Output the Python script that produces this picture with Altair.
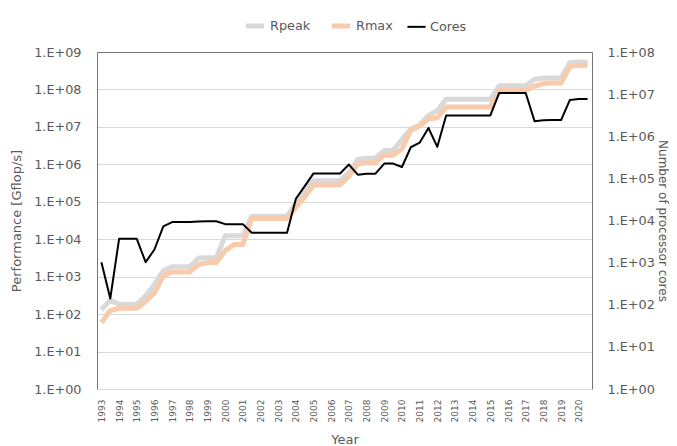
import json
import altair as alt
import pandas as pd

years = list(range(1993, 2021))

rpeak = [131.0, 235.8, 184, 184, 184, 307.2, 614.4, 1453, 1830.4, 1830.4, 1830.4, 3154, 3207, 3207,
         12288, 12288, 12288, 40960, 40960, 40960, 40960, 40960, 91750, 183500,
         367000, 367000, 367000, 367000, 596378, 1375776, 1456704, 1456704, 2331000, 2331000,
         4701000, 8773630, 11280384, 20132659, 27112550,
         54902400, 54902400, 54902400, 54902400, 54902400, 54902400,
         125435904, 125435904, 125435904, 125435904,
         187659264, 200794880, 200794880, 200794880, 513854670, 537212000, 537212000]

rmax = [59.7, 124.5, 143.4, 143.4, 143.4, 220.4, 368.2, 1068, 1338, 1338, 1338, 2121, 2379, 2379,
        4938, 7226, 7226, 35860, 35860, 35860, 35860, 35860, 70720, 136800,
        280600, 280600, 280600, 280600, 478200, 1026000, 1105000, 1105000, 1759000, 1759000,
        2566000, 8162000, 10510000, 16324751, 17590000,
        33862700, 33862700, 33862700, 33862700, 33862700, 33862700,
        93014594, 93014594, 93014594, 93014594,
        122300000, 143500000, 148600000, 148600000, 415530000, 442010000, 442010000]

cores = [1024, 140, 3680, 3680, 3680, 1024, 2048, 7264, 9152, 9152, 9152, 9472, 9632, 9632,
         8192, 8192, 8192, 5120, 5120, 5120, 5120, 5120, 32768, 65536,
         131072, 131072, 131072, 131072, 212992, 122400, 129600, 129600, 224162, 224162,
         186368, 548352, 705024, 1572864, 560640,
         3120000, 3120000, 3120000, 3120000, 3120000, 3120000,
         10649600, 10649600, 10649600, 10649600,
         2282544, 2397824, 2414592, 2414592, 7299072, 7630848, 7630848]

perf_ticks = ["1.E+00", "1.E+01", "1.E+02", "1.E+03", "1.E+04", "1.E+05", "1.E+06", "1.E+07", "1.E+08", "1.E+09"]
core_ticks = ["1.E+00", "1.E+01", "1.E+02", "1.E+03", "1.E+04", "1.E+05", "1.E+06", "1.E+07", "1.E+08"]

series_order = ["Rpeak", "Rmax", "Cores"]
series_colors = ["#D9D9D9", "#F8CBAD", "#000000"]
series_widths = [5, 5, 2]

n = len(rmax)
idx = list(range(n))
df = pd.DataFrame({
    "idx": idx * 3,
    "value": rpeak + rmax + cores,
    "series": ["Rpeak"] * n + ["Rmax"] * n + ["Cores"] * n,
})

TXT = "#595959"
AXIS = "#767676"
GRID = "#D9D9D9"

legend = alt.Legend(title=None, orient="none", legendX=146, legendY=-38, direction="horizontal",
                    symbolType="stroke", symbolSize=330, labelFontSize=12.8, labelColor=TXT,
                    columnPadding=10, labelOffset=3)
color = alt.Color("series:N", scale=alt.Scale(domain=series_order, range=series_colors), legend=legend)
swidth = alt.StrokeWidth("series:N", scale=alt.Scale(type="ordinal", domain=series_order, range=series_widths),
                         legend=legend)

xscale = alt.Scale(domain=[-0.5, n - 0.5], nice=False, zero=False)
x_bottom = alt.X("idx:Q", scale=xscale,
                 axis=alt.Axis(values=[2 * i for i in range(len(years))],
                               labelExpr=f"'' + ({years[0]} + datum.value / 2)",
                               labelAngle=270, ticks=False, grid=False, domainColor=GRID,
                               labelFontSize=9, labelColor=TXT, labelPadding=10,
                               title="Year", titleFontSize=13, titleColor=TXT,
                               titleFontWeight="normal", titlePadding=12))
x_top = alt.X("idx:Q", scale=xscale,
              axis=alt.Axis(orient="top", labels=False, ticks=False, grid=False,
                            domainColor=AXIS, title=None))

y_left = alt.Y("value:Q", scale=alt.Scale(type="log", domain=[1, 1e9], nice=False),
               axis=alt.Axis(values=[10 ** i for i in range(len(perf_ticks))],
                             labelExpr=f"{json.dumps(perf_ticks)}[round(log(datum.value)/LN10)]",
                             ticks=False, domainColor=AXIS, gridColor=GRID,
                             labelFontSize=12.8, labelColor=TXT, labelPadding=16,
                             title="Performance [Gflop/s]", titleFontSize=13, titleColor=TXT,
                             titleFontWeight="normal", titlePadding=10))
y_right = alt.Y("value:Q", scale=alt.Scale(type="log", domain=[1, 1e8], nice=False),
                axis=alt.Axis(orient="right", values=[10 ** i for i in range(len(core_ticks))],
                              labelExpr=f"{json.dumps(core_ticks)}[round(log(datum.value)/LN10)]",
                              ticks=False, grid=False, domainColor=AXIS,
                              labelFontSize=12.8, labelColor=TXT, labelPadding=15,
                              title="Number of processor cores", titleFontSize=12, titleColor=TXT,
                              titleFontWeight="normal", titlePadding=1))

base = alt.Chart(df)
rpeak_l = base.transform_filter(alt.datum.series == "Rpeak").mark_line(strokeJoin="round").encode(
    x=x_bottom, y=y_left, color=color, strokeWidth=swidth)
rmax_l = base.transform_filter(alt.datum.series == "Rmax").mark_line(strokeJoin="round").encode(
    x=x_bottom, y=y_left, color=color, strokeWidth=swidth)
cores_l = base.transform_filter(alt.datum.series == "Cores").mark_line(strokeJoin="round").encode(
    x=x_top, y=y_right, color=color, strokeWidth=swidth)

chart = alt.layer(alt.layer(rpeak_l, rmax_l), cores_l).resolve_scale(
    y="independent"
).resolve_axis(
    x="independent"
).properties(
    width=495, height=337,
    autosize=alt.AutoSizeParams(type="none"),
    padding={"left": 89, "top": 44, "right": 77, "bottom": 57},
).configure(font="DejaVu Sans").configure_view(stroke=None)

chart.save("out.html", embed_options={"renderer": "svg", "actions": False})
